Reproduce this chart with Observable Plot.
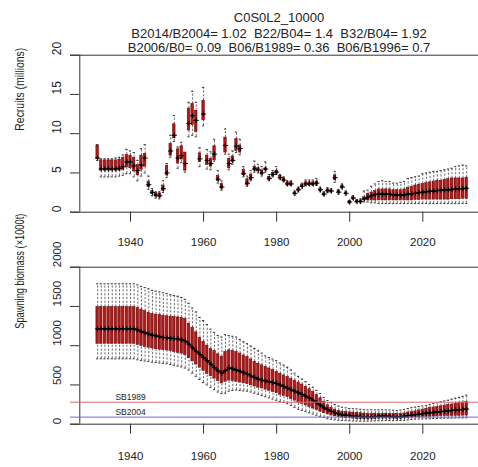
<!DOCTYPE html>
<html><head><meta charset="utf-8">
<script src="https://cdn.jsdelivr.net/npm/d3@7"></script>
<script src="https://cdn.jsdelivr.net/npm/@observablehq/plot@0.6"></script>
<style>
body{margin:0;background:#fff;}
#wrap{position:relative;width:478px;height:467px;font-family:"Liberation Sans",Arial,sans-serif;color:#222;overflow:hidden;}
.t{position:absolute;left:79px;width:400px;text-align:center;font-size:13px;line-height:15px;white-space:pre;}
#p1{position:absolute;left:0;top:0}
#p2{position:absolute;left:0;top:250px}
</style></head>
<body><div id="wrap">
<div id="p1"></div><div id="p2"></div>
<div class="t" style="top:9.5px">C0S0L2_10000</div>
<div class="t" style="top:25.5px">B2014/B2004= 1.02  B22/B04= 1.4  B32/B04= 1.92</div>
<div class="t" style="top:40px">B2006/B0= 0.09  B06/B1989= 0.36  B06/B1996= 0.7</div>
</div>
<script>
// ---------- data ----------
const firstYear = 1931, lastYear = 2032;
const xTicks = [1940, 1960, 1980, 2000, 2020];
const recTicks = [0, 5, 10, 15, 20];
const sbTicks = [0, 500, 1000, 1500, 2000];

// Recruits (millions), 1931-2032
const recMed = [6.9,5.5,5.5,5.5,5.5,5.5,5.6,5.8,6.4,6.4,
 5.9,5.3,6.0,6.9,3.5,2.5,2.2,2.1,3.0,5.0,
 7.8,9.8,6.9,7.2,6.2,11.3,12.3,11.7,6.8,12.5,
 6.6,6.2,7.4,4.2,3.2,8.5,6.2,6.6,8.4,8.1,
 4.9,3.7,4.4,5.5,5.4,5.0,5.5,4.3,4.8,5.1,
 4.4,4.1,3.6,3.6,2.4,2.85,3.3,3.6,3.6,3.6,
 3.7,2.85,2.3,2.75,2.7,4.4,2.55,3.2,2.4,1.3,
 1.8,1.35,1.35,1.7,1.9,2.1,2.25,2.3,2.3,2.3,
 2.3,2.2,2.2,2.15,2.2,2.3,2.35,2.4,2.5,2.55,
 2.6,2.65,2.7,2.75,2.8,2.85,2.85,2.9,2.95,3.0,
 3.0,3.05];
const recQ1 = [6.8,5.3,5.3,5.3,5.3,5.3,5.3,5.4,5.7,5.6,
 5.2,4.7,5.4,5.8,3.2,2.3,2.0,1.9,2.7,4.7,
 7.2,9.4,6.2,6.7,5.3,10.4,11.1,10.2,6.4,11.7,
 6.0,5.8,6.6,4.0,3.0,7.6,5.6,6.4,7.8,7.6,
 4.7,3.4,4.1,5.3,5.2,4.8,5.3,4.1,4.6,4.9,
 4.3,4.0,3.5,3.5,2.3,2.7,3.2,3.5,3.5,3.5,
 3.5,2.7,2.2,2.6,2.6,4.1,2.4,3.1,2.3,1.2,
 1.7,1.3,1.3,1.5,1.5,1.5,1.5,1.5,1.5,1.5,
 1.5,1.5,1.5,1.5,1.5,1.5,1.5,1.55,1.55,1.6,
 1.6,1.6,1.6,1.6,1.6,1.6,1.6,1.65,1.65,1.65,
 1.7,1.7];
const recQ3 = [8.5,6.6,6.6,6.6,6.6,6.6,6.7,6.9,7.3,7.2,
 6.9,6.0,7.2,7.4,3.9,2.7,2.4,2.4,3.4,5.9,
 8.7,11.2,8.0,8.4,7.6,13.2,13.8,12.9,7.5,14.2,
 7.2,6.8,8.4,4.6,3.6,9.5,6.8,7.1,9.3,8.5,
 5.4,4.2,4.8,5.8,5.6,5.3,5.6,4.5,5.0,5.3,
 4.6,4.3,3.8,3.8,2.5,3.0,3.5,3.8,3.8,3.8,
 3.9,3.0,2.4,2.9,2.8,4.7,2.7,3.4,2.5,1.4,
 1.9,1.45,1.5,1.9,2.3,2.5,2.7,2.9,2.9,2.9,
 2.9,2.8,2.8,2.8,2.9,3.1,3.2,3.4,3.5,3.6,
 3.7,3.8,3.9,4.0,4.0,4.1,4.2,4.3,4.3,4.3,
 4.3,4.4];
const recLo = [6.6,4.5,4.5,4.5,4.5,4.5,4.6,4.7,4.9,4.9,
 4.5,4.0,4.6,5.0,2.9,2.1,1.8,1.7,2.5,4.4,
 7.0,9.0,5.6,6.3,5.1,9.6,9.8,9.6,5.8,11.0,
 5.5,5.4,6.5,3.7,2.8,7.4,5.4,6.1,7.6,7.3,
 4.5,3.3,4.0,5.1,5.0,4.6,5.1,4.0,4.5,4.8,
 4.2,3.9,3.4,3.4,2.2,2.6,3.1,3.4,3.4,3.4,
 3.4,2.6,2.1,2.5,2.5,3.8,2.3,3.0,2.2,1.1,
 1.6,1.2,1.2,1.3,1.3,1.2,1.2,1.1,1.1,1.1,
 1.1,1.1,1.1,1.1,1.1,1.1,1.1,1.1,1.1,1.1,
 1.1,1.1,1.1,1.1,1.1,1.1,1.1,1.1,1.1,1.1,
 1.1,1.1];
const recHi = [8.6,6.8,6.8,6.8,6.8,6.9,7.0,7.3,8.0,7.8,
 7.6,6.6,8.1,8.6,4.6,3.0,2.6,2.6,4.0,6.2,
 9.8,12.3,8.3,8.9,7.6,14.0,15.4,14.0,8.2,15.9,
 8.0,7.7,9.3,5.3,4.0,10.6,7.4,7.8,10.2,9.3,
 5.8,4.6,5.3,6.5,6.1,5.8,6.4,4.8,5.3,5.8,
 4.8,4.5,4.0,4.0,2.7,3.2,3.7,4.1,4.1,4.1,
 4.3,3.2,2.6,3.1,3.0,5.2,2.9,3.6,2.7,1.5,
 2.1,1.6,1.7,2.7,2.8,3.3,3.6,3.9,4.0,3.9,
 3.9,3.7,3.7,3.8,3.9,4.3,4.4,4.5,4.6,4.9,
 5.0,5.1,5.2,5.2,5.3,5.4,5.5,5.6,5.8,5.9,
 6.0,5.9];

// Spawning biomass (x1000t), 1931-2032
const sbMed = [1215,1215,1215,1215,1215,1215,1215,1215,1215,1215,
 1215,1200,1180,1165,1150,1135,1125,1115,1105,1100,
 1095,1090,1085,1075,1060,1020,975,930,890,850,
 810,765,720,680,650,680,720,705,690,675,
 655,640,615,595,575,560,550,540,530,520,
 500,480,460,440,420,400,380,355,335,305,
 275,245,210,185,165,145,130,120,115,110,
 105,102,98,92,90,92,98,102,102,102,
 100,95,90,95,102,110,117,122,128,134,
 140,145,150,155,160,165,170,175,180,184,
 188,193];
const sbQ1 = [1024,1024,1024,1024,1024,1024,1024,1024,1024,1024,
 1024,1010,995,985,975,965,955,950,945,940,
 930,920,910,900,880,840,800,760,720,680,
 640,610,580,550,520,540,555,550,540,530,
 520,510,495,480,465,455,440,425,410,395,
 375,360,345,320,300,275,260,240,220,200,
 180,160,140,125,110,100,90,85,82,78,
 72,68,68,68,68,68,70,72,73,74,
 74,72,70,72,75,80,85,88,90,92,
 94,96,98,100,102,104,105,106,107,108,
 109,110];
const sbQ3 = [1491,1491,1491,1491,1491,1491,1491,1491,1491,1491,
 1491,1480,1460,1440,1420,1405,1395,1390,1380,1375,
 1370,1365,1360,1355,1340,1280,1230,1170,1100,1050,
 1000,960,930,890,860,920,940,935,920,900,
 875,855,825,795,770,750,730,710,690,665,
 640,620,600,575,555,530,505,475,445,410,
 370,330,285,240,210,185,170,160,155,150,
 148,145,140,135,133,133,133,133,133,133,
 132,130,128,130,137,148,157,163,175,185,
 195,205,212,220,228,236,243,250,260,268,
 275,282];
const sbLo = [833,833,833,833,833,833,833,833,833,833,
 833,820,810,805,800,790,785,780,775,770,
 760,750,740,730,715,690,650,610,570,530,
 500,470,440,410,390,395,420,430,435,430,
 425,420,410,395,380,365,350,335,320,305,
 290,275,260,240,215,190,175,160,145,130,
 115,100,85,70,62,56,52,48,46,43,
 41,40,39,39,39,40,42,44,46,48,
 47,45,45,47,50,55,60,64,66,67,
 68,70,72,74,75,76,77,78,79,80,
 80,81];
const sbHi = [1788,1788,1788,1788,1788,1788,1788,1788,1788,1788,
 1788,1775,1755,1740,1725,1705,1695,1685,1675,1665,
 1650,1640,1630,1615,1590,1540,1480,1430,1360,1320,
 1270,1210,1170,1130,1110,1140,1130,1120,1110,1080,
 1050,1025,995,965,935,905,870,850,830,810,
 780,755,725,690,650,610,575,540,505,470,
 430,390,340,300,275,250,230,215,208,200,
 197,195,190,185,183,183,183,183,183,183,
 182,178,175,180,188,200,210,217,225,232,
 240,252,262,272,285,295,305,318,330,342,
 355,370];

const refNames = ["SB1989", "SB2004"];
const refValues = [280, 90];
const refColors = ["#dc6868", "#6a6ad4"];
const projectionStart = 2004;

// ---------- build ----------
const years = d3.range(firstYear, lastYear + 1);
const rec = years.map((year, i) => ({year, med: recMed[i], q1: recQ1[i], q3: recQ3[i], lo: recLo[i], hi: recHi[i]}));
const sb = years.map((year, i) => ({year, med: sbMed[i], q1: sbQ1[i], q3: sbQ3[i], lo: sbLo[i], hi: sbHi[i]}));
const refs = refNames.map((name, i) => ({name, value: refValues[i], color: refColors[i]}));

const FONT = '"Liberation Sans", Arial, sans-serif';
const BW = 0.33, CW = 0.3;

// layout: x scale pinned to pixels, axis line sits a little inside the left margin
const xScaleOpts = {domain: [1940, 2020], range: [130, 422.3]};
const xs = Plot.scale({x: xScaleOpts});
const PLOT_LEFT = 70, AXIS_PX = 79.3;
const axisYear = xs.invert(AXIS_PX), tickEndYear = xs.invert(PLOT_LEFT);

function boxMarks(data) {
  return [
    Plot.ruleX(data, {x: "year", y1: "q3", y2: "hi", stroke: "#444", strokeWidth: 0.8, strokeDasharray: "2.2,1.6"}),
    Plot.ruleX(data, {x: "year", y1: "lo", y2: "q1", stroke: "#444", strokeWidth: 0.8, strokeDasharray: "2.2,1.6"}),
    Plot.ruleY(data, {y: "hi", x1: d => d.year - CW, x2: d => d.year + CW, stroke: "#222", strokeWidth: 0.9}),
    Plot.ruleY(data, {y: "lo", x1: d => d.year - CW, x2: d => d.year + CW, stroke: "#222", strokeWidth: 0.9}),
    Plot.rect(data, {x1: d => d.year - BW, x2: d => d.year + BW, y1: "q1", y2: "q3", fill: "#c01212", stroke: "#5a0a0a", strokeWidth: 0.6}),
    Plot.ruleY(data, {y: "med", x1: d => d.year - BW, x2: d => d.year + BW, stroke: "#000", strokeWidth: 1.4}),
    Plot.dot(data, {x: "year", y: "med", symbol: "plus", r: 1.8, stroke: "#000", strokeWidth: 1})
  ];
}

function frameMarks(ticks, top) {
  return [
    Plot.ruleY([0, top], {stroke: "#333"}),
    Plot.ruleX([axisYear], {y1: 0, y2: top, stroke: "#333"}),
    Plot.ruleY(ticks, {y: d => d, x1: tickEndYear, x2: axisYear, stroke: "#333"})
  ];
}

const common = {
  width: 478, marginLeft: PLOT_LEFT, marginRight: 0,
  x: xScaleOpts,
  style: {fontFamily: FONT, fontSize: "11.5px", color: "#222", background: "white", overflow: "visible"}
};

const p1 = Plot.plot({
  ...common,
  height: 250, marginTop: 54.7, marginBottom: 38.3,
  y: {domain: [0, 20], range: [211.7, 54.7], axis: null},
  marks: [
    ...frameMarks(recTicks, 20),
    Plot.axisX({ticks: xTicks, tickSize: 10, tickPadding: 15.5, tickFormat: d => String(d), label: null, stroke: "#333", fill: "#222"}),
    Plot.text(recTicks, {y: d => d, text: d => String(d), frameAnchor: "left", dx: -13.3, rotate: -90, fontSize: 12, fill: "#222"}),
    Plot.text(["Recruits (millions)"], {frameAnchor: "left", dx: -51, dy: -3, rotate: -90, text: d => d, fontSize: 12.5, fill: "#222"}),
    ...boxMarks(rec),
    Plot.line(rec.filter(d => d.year >= projectionStart), {x: "year", y: "med", stroke: "#000", strokeWidth: 1.4})
  ]
});

const p2 = Plot.plot({
  ...common,
  height: 217, marginTop: 16.7, marginBottom: 43.3,
  y: {domain: [0, 2000], range: [173.7, 16.7], axis: null},
  marks: [
    ...frameMarks(sbTicks, 2000),
    Plot.axisX({ticks: xTicks, tickSize: 10, tickPadding: 18, tickFormat: d => String(d), label: null, stroke: "#333", fill: "#222"}),
    Plot.text(sbTicks, {y: d => d, text: d => String(d), frameAnchor: "left", dx: -13.3, rotate: -90, fontSize: 11.5, fill: "#222"}),
    Plot.text(["Spawning biomass (×1000t)"], {frameAnchor: "left", dx: -51, dy: -17, rotate: -90, text: d => d, fontSize: 12.5, fill: "#222"}),
    ...boxMarks(sb),
    Plot.line(sb, {x: "year", y: "med", stroke: "#000", strokeWidth: 1.2}),
    Plot.ruleY(refs, {y: "value", stroke: "color", strokeWidth: 1}),
    Plot.text(refs, {x: 1940, y: "value", text: "name", dy: -5, fontSize: 8.5, fill: "#222"})
  ]
});

// squeeze the rotated axis titles to the reference's lengths
function fitText(svg, label, len) {
  svg.querySelectorAll("text").forEach(t => {
    if (t.textContent === label) { t.setAttribute("textLength", len); t.setAttribute("lengthAdjust", "spacingAndGlyphs"); }
  });
}
fitText(p1, "Recruits (millions)", 83);
fitText(p2, "Spawning biomass (×1000t)", 115);

document.getElementById("p1").append(p1);
document.getElementById("p2").append(p2);
</script>
</body></html>
